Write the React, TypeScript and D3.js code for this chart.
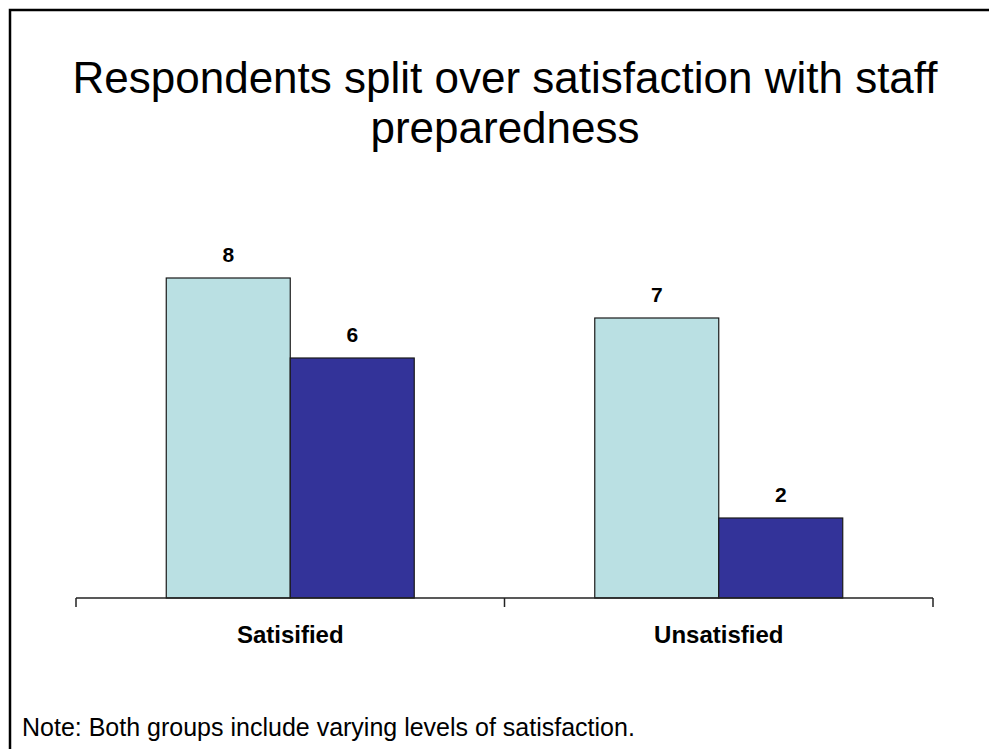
import React from "react";
import * as d3 from "d3";

const categories = ["Satisified", "Unsatisfied"];
const seriesNames = ["Group A", "Group B"];
const seriesA = [8, 7];
const seriesB = [6, 2];
const titleLines = ["Respondents split over satisfaction with staff", "preparedness"];
const note = "Note: Both groups include varying levels of satisfaction.";

const W = 989;
const H = 749;
const FONT = "'Liberation Sans', Arial, Helvetica, sans-serif";
const colors = ["#BAE0E3", "#333399"];

export default function App() {
  const x0 = d3.scaleBand<string>().domain(categories).range([76, 933]).paddingInner(0).paddingOuter(0);
  const x1 = d3.scaleBand<string>().domain(seriesNames).range([0, x0.bandwidth()]).paddingInner(0).paddingOuter(0.728);
  const y = d3.scaleLinear().domain([0, 10]).range([598, 198]);
  const data = categories.map((c, i) => ({ cat: c, vals: [seriesA[i], seriesB[i]] }));
  const ticks = [...categories.map((c) => x0(c) as number), 933];

  return (
    <svg width={W} height={H} style={{ position: "absolute", left: 0, top: 0, background: "#fff" }} fontFamily={FONT}>
      <rect x={0} y={0} width={W} height={H} fill="#fff" />
      <path d={`M10,${H + 5} L10,10 L${W + 5},10`} fill="none" stroke="#000" strokeWidth={2.5} />
      {titleLines.map((t, i) => (
        <text key={i} x={505} y={93 + i * 50} textAnchor="middle" fontSize={44} fill="#000">{t}</text>
      ))}
      {data.map((d) => (
        <g key={d.cat} transform={`translate(${x0(d.cat)},0)`}>
          {d.vals.map((v, j) => (
            <g key={j}>
              <rect x={x1(seriesNames[j])} y={y(v)} width={x1.bandwidth()} height={y(0) - y(v)} fill={colors[j]} stroke="#1a1a1a" strokeWidth={1.2} />
              <text x={(x1(seriesNames[j]) as number) + x1.bandwidth() / 2} y={y(v) - 16} textAnchor="middle" fontSize={21} fontWeight="bold" fill="#000">{v}</text>
            </g>
          ))}
          <text x={x0.bandwidth() / 2} y={643} textAnchor="middle" fontSize={24} fontWeight="bold" fill="#000">{d.cat}</text>
        </g>
      ))}
      <line x1={76} x2={933} y1={598} y2={598} stroke="#222" strokeWidth={1.5} />
      {ticks.map((t, i) => (
        <line key={i} x1={t} x2={t} y1={598} y2={607} stroke="#222" strokeWidth={1.5} />
      ))}
      <text x={22} y={736} fontSize={25} fill="#000">{note}</text>
    </svg>
  );
}
